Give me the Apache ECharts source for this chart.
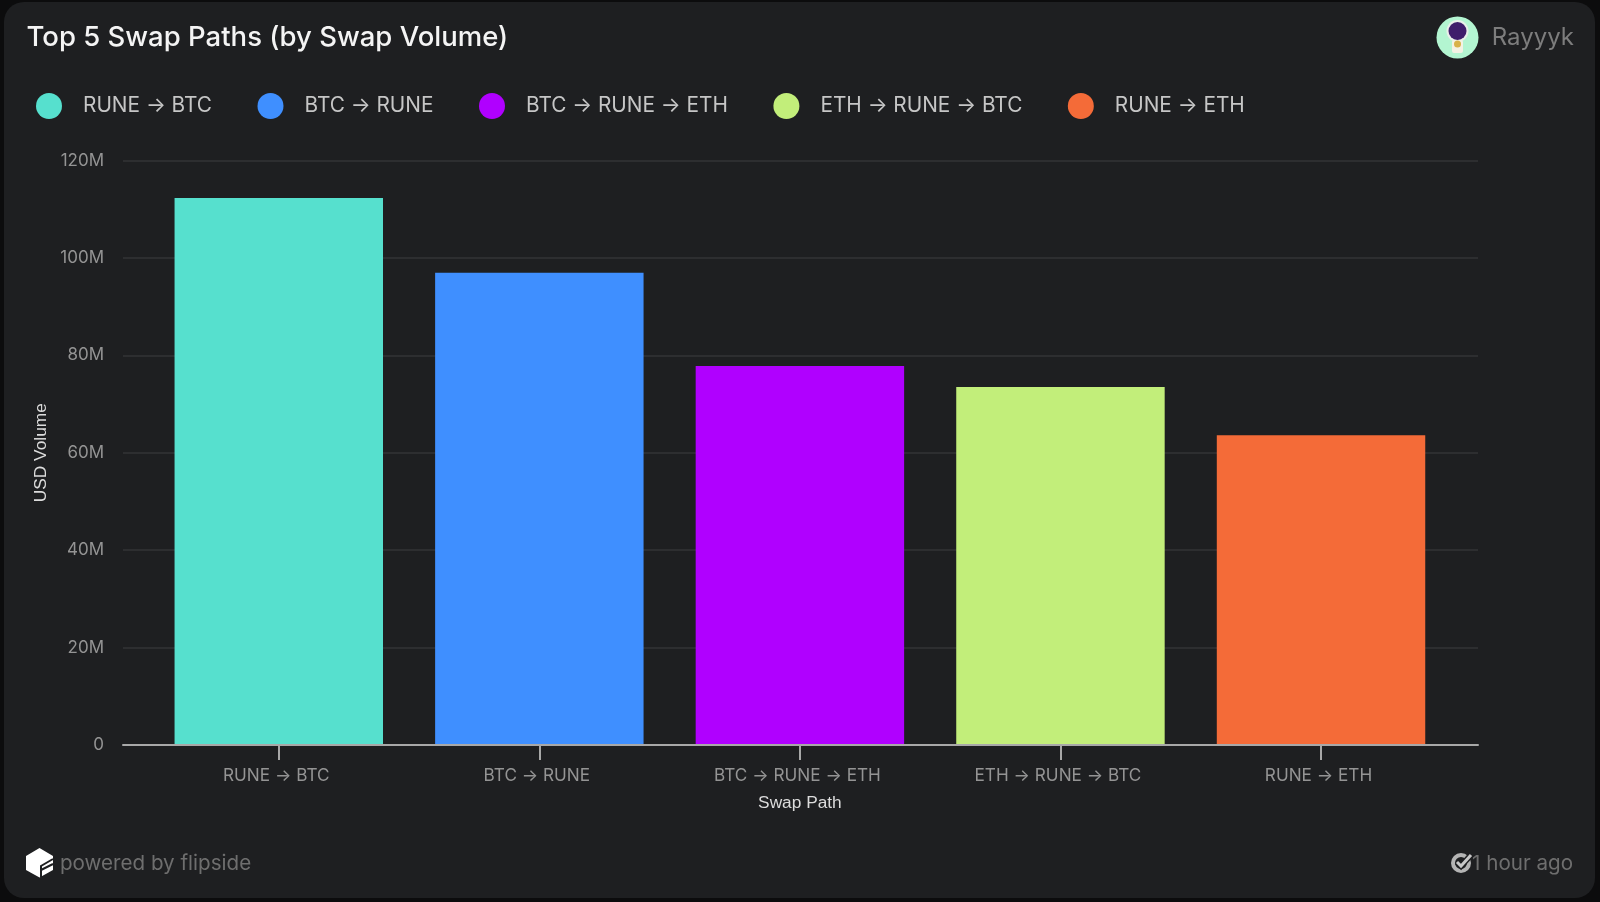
<!DOCTYPE html>
<html><head><meta charset="utf-8">
<style>html,body{margin:0;padding:0;background:#0c0c0d}#c{width:1600px;height:902px}</style>
<script src="https://cdn.jsdelivr.net/npm/echarts@6/dist/echarts.min.js"></script>
</head><body><div id="c"></div>
<script>
const categories = ['RUNE → BTC','BTC → RUNE','BTC → RUNE → ETH','ETH → RUNE → BTC','RUNE → ETH'];
const volumes = [112300000, 96950000, 77800000, 73500000, 63600000];
const colors = ['#56E0CE','#3F8FFF','#B000FF','#C2EE7A','#F46B38'];
const yMax = 120000000, yStep = 20000000;
const FONT = 'Inter';
const chart = echarts.init(document.getElementById('c'), null, {renderer:'canvas', width:1600, height:902});
const series = categories.map((name,i)=>({
  name, type:'bar', xAxisIndex:1, yAxisIndex:1,
  data: categories.map((_,j)=> j===i ? volumes[i] : null),
  barWidth:'80%', barGap:'-100%',
  itemStyle:{color:colors[i]}, z:3, emphasis:{disabled:true}
}));
chart.setOption({
  animation:false,
  backgroundColor:'#0c0c0d',
  title:{text:'Top 5 Swap Paths (by Swap Volume)',left:26.5,top:24,padding:0,textStyle:{fontFamily:FONT,fontSize:27.5,fontWeight:500,color:'#f4f4f4'}},
  legend:{left:31,top:88,itemWidth:58,itemHeight:26,itemGap:45.5,icon:'circle',selectedMode:false,
    data:categories,textStyle:{fontFamily:FONT,fontSize:20.8,color:'#c6c6c6'}},
  grid:[
    {left:123,width:1355,top:160.4,height:584.6},
    {left:148.5,width:1302.8,top:160.4,height:584.6}
  ],
  xAxis:[
    {type:'category',gridIndex:0,data:[''],z:5,axisLine:{lineStyle:{color:'#a8a8a8',width:2}},axisTick:{show:false},axisLabel:{show:false}},
    {type:'category',gridIndex:1,data:categories,axisLine:{show:false},
      axisTick:{show:true,alignWithLabel:true,length:15,lineStyle:{color:'#a8a8a8',width:2}},
      axisLabel:{margin:22,padding:[0,5,0,0],fontFamily:FONT,fontSize:17.2,color:'#949494',interval:0},
      name:'Swap Path',nameLocation:'middle',nameGap:50,
      nameTextStyle:{fontFamily:'Liberation Sans',fontSize:17.3,color:'#dcdcdc'}}
  ],
  yAxis:[
    {type:'value',gridIndex:0,min:0,max:yMax,interval:yStep,axisLine:{show:false},axisTick:{show:false},
      splitLine:{lineStyle:{color:'#333436',width:1.5}},
      axisLabel:{margin:19,padding:[0,0,5,0],fontFamily:FONT,fontSize:17,color:'#949494',
        formatter:v=>v===0?'0':(v/1000000)+'M'},
      name:'USD Volume',nameLocation:'middle',nameGap:72,nameRotate:90,
      nameTextStyle:{fontFamily:'Liberation Sans',fontSize:17.3,color:'#dcdcdc'}},
    {type:'value',gridIndex:1,min:0,max:yMax,interval:yStep,show:false}
  ],
  graphic:[
    {type:'rect',z:-10,silent:true,shape:{x:4,y:2,width:1591,height:896,r:20},style:{fill:'#1e1f21'}},
    // avatar
    {type:'circle',z:10,shape:{cx:1457.5,cy:37.5,r:21},style:{fill:'#B3F5D1'}},
    {type:'circle',z:11,shape:{cx:1457.5,cy:31,r:11},style:{fill:'#E8EFE9'}},
    {type:'circle',z:12,shape:{cx:1457.5,cy:31,r:9},style:{fill:'#3F1D6B'}},
    {type:'rect',z:11,shape:{x:1452,y:40,width:11,height:13,r:2},style:{fill:'#F4F2E4'}},
    {type:'circle',z:12,shape:{cx:1457.5,cy:44,r:3.5},style:{fill:'#D8B24A'}},
    // author
    {type:'text',z:10,style:{x:1574,y:38,text:'Rayyyk',align:'right',verticalAlign:'middle',fontFamily:FONT,fontSize:24,fill:'#7d7d7d'}},
    // flipside logo
    {type:'polygon',z:10,shape:{points:[[39.5,848],[53,856],[53,870],[39.5,877.5],[26,870],[26,856]]},style:{fill:'#ffffff'}},
    {type:'polyline',z:11,shape:{points:[[41,877],[41,866],[53,859]]},style:{stroke:'#1e1f21',lineWidth:2,fill:'none'}},
    {type:'polyline',z:11,shape:{points:[[41,870],[53,864]]},style:{stroke:'#1e1f21',lineWidth:2,fill:'none'}},
    {type:'text',z:10,style:{x:60,y:864,text:'powered by flipside',align:'left',verticalAlign:'middle',fontFamily:FONT,fontSize:20.6,fill:'#6e6e6e'}},
    // freshness icon
    {type:'circle',z:10,shape:{cx:1461,cy:863,r:8},style:{fill:'none',stroke:'#b4b4b4',lineWidth:4}},
    {type:'polyline',z:11,shape:{points:[[1457,862],[1461,866],[1471,855]]},style:{stroke:'#1e1f21',lineWidth:6,fill:'none'}},
    {type:'polyline',z:12,shape:{points:[[1457,862],[1461,866],[1471,855]]},style:{stroke:'#c8c8c8',lineWidth:3,fill:'none'}},
    {type:'text',z:13,style:{x:1573,y:864,text:'1 hour ago',align:'right',verticalAlign:'middle',fontFamily:FONT,fontSize:20.6,fill:'#6e6e6e'}}
  ],
  series
});
</script></body></html>
